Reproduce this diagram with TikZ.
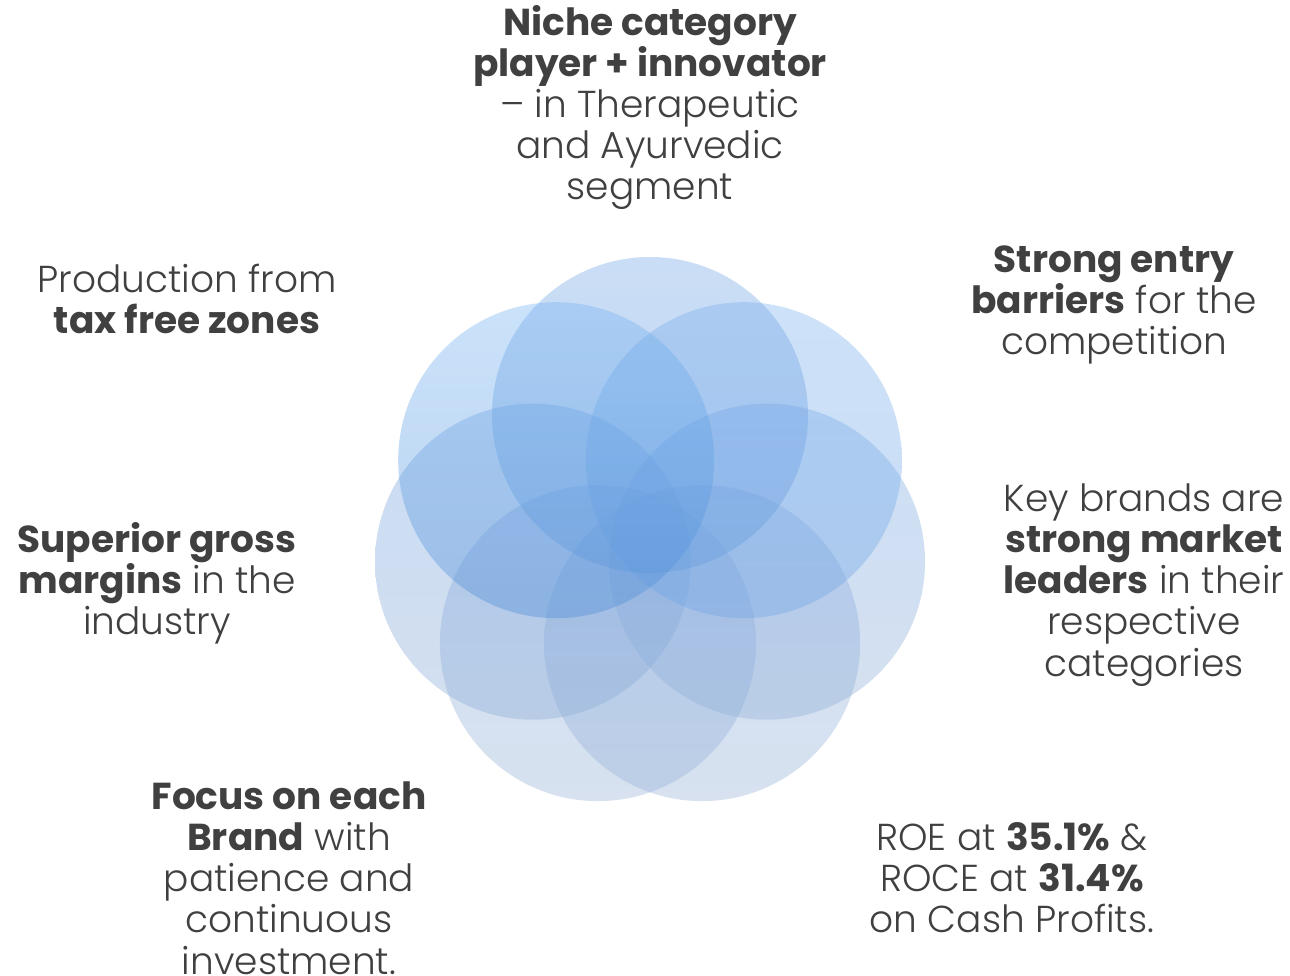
\documentclass[tikz,border=0pt]{standalone}
\usepackage{fontspec}
\setmainfont{Poppins}[UprightFont=* Light, BoldFont=* Bold]
\definecolor{txt}{RGB}{64,64,64}
\definecolor{tT}{RGB}{117,167,232}\definecolor{tB}{RGB}{100,155,222}
\definecolor{urT}{RGB}{125,180,240}\definecolor{urB}{RGB}{112,165,230}
\definecolor{rT}{RGB}{122,170,232}\definecolor{rB}{RGB}{145,175,215}
\definecolor{bT}{RGB}{140,175,225}\definecolor{bB}{RGB}{150,178,217}
\definecolor{lT}{RGB}{115,163,228}\definecolor{lB}{RGB}{140,172,214}
\definecolor{ulT}{RGB}{117,180,242}\definecolor{ulB}{RGB}{75,140,215}
\tikzset{
  petal/.style={fill opacity=0.38, draw=none},
  label/.style={align=center, anchor=north, inner sep=0pt, text=txt,
    font=\fontsize{37.5}{41.2}\selectfont},
}
\newcommand{\fs}{\rule{0pt}{34pt}}
\begin{document}
\begin{tikzpicture}[x=1pt,y=-1pt]
\useasboundingbox[fill=white] (0,0) rectangle (1290,976);
% petals
\shade[petal, top color=bT, bottom color=bB] (597.9,643.1) circle[radius=158pt];
\shade[petal, top color=bT, bottom color=bB] (702.1,643.1) circle[radius=158pt];
\shade[petal, top color=lT, bottom color=lB] (533,561.7) circle[radius=158pt];
\shade[petal, top color=rT, bottom color=rB] (767,561.7) circle[radius=158pt];
\shade[petal, top color=urT, bottom color=urB] (743.8,460.2) circle[radius=158pt];
\shade[petal, top color=tT, bottom color=tB] (650,415) circle[radius=158pt];
\shade[petal, top color=ulT, bottom color=ulB] (556.2,460.2) circle[radius=158pt];
% labels
\node[label] (top) at (650,1) {\fs\textbf{Niche category}\\\textbf{player + innovator}\\– in Therapeutic\\and Ayurvedic\\segment};
\node[label] (ul) at (187,258) {\fs Production from\\\textbf{tax free zones}};
\node[label] (ur) at (1114,238) {\fs\textbf{Strong entry}\\\textbf{barriers} for the\\competition};
\node[label] (r) at (1144,477) {\fs Key brands are\\\textbf{strong market}\\\textbf{leaders} in their\\respective\\categories};
\node[label] (l) at (157,518) {\fs\textbf{Superior gross}\\\textbf{margins} in the\\industry};
\node[label] (bl) at (289,775) {\fs\textbf{Focus on each}\\\textbf{Brand} with\\patience and\\continuous\\investment.};
\node[label] (br) at (1012,816) {\fs ROE at \textbf{35.1\%} \&\\ROCE at \textbf{31.4\%}\\on Cash Profits.};
\end{tikzpicture}
\end{document}
